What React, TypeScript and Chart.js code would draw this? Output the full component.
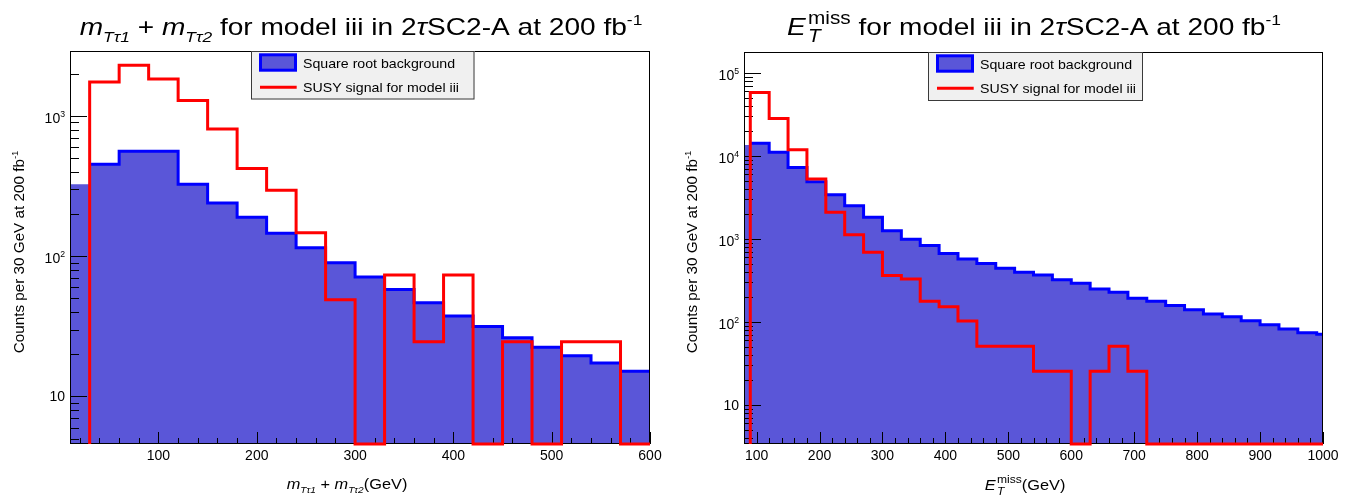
import React, { useEffect, useRef } from 'react';
import { Chart, registerables } from 'chart.js';

Chart.register(...registerables);

const W = 677;
const H = 498;
const FONT = '"Liberation Sans", Arial, Helvetica, sans-serif';
const BIN_WIDTH = 30;
const X_MINOR_STEP = 20;
const SUBR = 0.62;
const STACKR = 0.74;
const BKG_FILL = 'rgb(90, 86, 216)';
const BKG_LINE = '#0000ff';
const SIG_LINE = '#ff0000';

const legendLabels = ['Square root background', 'SUSY signal for model iii'];
const yTitleText = 'Counts per 30 GeV at 200 fb';

// ---- Left panel: m_Tτ1 + m_Tτ2 ----
const mttBkgFirstEdge = 0;
const mttBkg = [326, 453, 562, 562, 326, 240, 190, 146, 115, 90, 71, 58, 46.5, 37.5, 31.5, 26.2, 22.4, 19.5, 17.3, 15.1];
const mttSigFirstEdge = 30;
const mttSig = [1750, 2300, 1840, 1290, 807, 422, 295, 147, 49, 0, 73.6, 24.6, 73.6, 0, 24.6, 0, 24.6, 24.6, 0];
const mttXRange = [10, 600];
const mttYRange = [4.58, 2910];
const mttXTicks = [100, 200, 300, 400, 500, 600];
const mttXTickLabels = ['100', '200', '300', '400', '500', '600'];
const mttYTicks = [10, 100, 1000];
const mttYTickLabels = ['10', '10^2', '10^3'];

// ---- Right panel: E_T^miss ----
const metBkgFirstEdge = 60;
const metBkg = [13500, 14200, 11000, 7250, 4860, 3390, 2500, 1815, 1250, 990, 830, 665, 570, 505, 441, 395, 365, 322, 291, 249, 227, 192, 177, 157, 140, 124, 115, 103, 92, 82, 74, 71];
const metSigFirstEdge = 90;
const metSig = [58000, 28200, 11800, 5250, 2090, 1120, 688, 360, 328, 177, 152, 102, 50.8, 50.8, 50.8, 25.4, 25.4, 0, 25.4, 50.8, 25.4, 0, 0, 0, 0, 0, 0, 0, 0, 0, 0];
const metXRange = [80, 1000];
const metYRange = [3.37, 178000];
const metXTicks = [100, 200, 300, 400, 500, 600, 700, 800, 900, 1000];
const metXTickLabels = ['100', '200', '300', '400', '500', '600', '700', '800', '900', '1000'];
const metYTicks = [10, 100, 1000, 10000, 100000];
const metYTickLabels = ['10', '10^2', '10^3', '10^4', '10^5'];

type Run = { t: string; it?: boolean; pos?: 'sub' | 'sup'; stack?: string; gap?: number };

const mttTitle: Run[] = [
  { t: 'm', it: true }, { t: 'Tτ1', it: true, pos: 'sub' }, { t: ' + ' },
  { t: 'm', it: true }, { t: 'Tτ2', it: true, pos: 'sub' },
  { t: ' for model iii in 2' }, { t: 'τ', it: true }, { t: 'SC2-A at 200 fb' }, { t: '-1', pos: 'sup' },
];
const mttXTitle: Run[] = [
  { t: 'm', it: true }, { t: 'Tτ1', it: true, pos: 'sub' }, { t: ' + ' },
  { t: 'm', it: true }, { t: 'Tτ2', it: true, pos: 'sub' }, { t: '(GeV)' },
];
const metTitle: Run[] = [
  { t: 'E', it: true, gap: 0.08 }, { t: 'T', it: true, stack: 'miss' },
  { t: ' for model iii in 2' }, { t: 'τ', it: true }, { t: 'SC2-A at 200 fb' }, { t: '-1', pos: 'sup' },
];
const metXTitle: Run[] = [{ t: 'E', it: true, gap: 0.08 }, { t: 'T', it: true, stack: 'miss' }, { t: '(GeV)' }];
const yTitleRuns: Run[] = [{ t: yTitleText }, { t: '-1', pos: 'sup' }];

function fontOf(size: number, it?: boolean) {
  return `${it ? 'italic ' : ''}${size}px ${FONT}`;
}

function runWidth(ctx: CanvasRenderingContext2D, r: Run, size: number) {
  let w = 0;
  if (r.stack !== undefined) {
    ctx.font = fontOf(size * STACKR, r.it);
    w = ctx.measureText(r.t).width;
    ctx.font = fontOf(size * STACKR, false);
    w = Math.max(w, ctx.measureText(r.stack).width);
  } else if (r.pos) {
    ctx.font = fontOf(size * SUBR, r.it);
    w = ctx.measureText(r.t).width;
  } else {
    ctx.font = fontOf(size, r.it);
    w = ctx.measureText(r.t).width;
  }
  return w + (r.gap || 0) * size;
}

function drawRuns(ctx: CanvasRenderingContext2D, runs: Run[], x: number, baseline: number, size: number, align: string, sx: number) {
  const widths = runs.map((r) => runWidth(ctx, r, size));
  const total = widths.reduce((a, b) => a + b, 0) * sx;
  const start = align === 'center' ? x - total / 2 : align === 'right' ? x - total : x;
  ctx.save();
  ctx.translate(start, baseline);
  ctx.scale(sx, 1);
  ctx.textAlign = 'left';
  ctx.textBaseline = 'alphabetic';
  let cx = 0;
  runs.forEach((r, i) => {
    if (r.stack !== undefined) {
      ctx.font = fontOf(size * STACKR, r.it);
      ctx.fillText(r.t, cx, size * 0.3);
      ctx.font = fontOf(size * STACKR, false);
      ctx.fillText(r.stack, cx, -size * 0.45);
    } else if (r.pos) {
      ctx.font = fontOf(size * SUBR, r.it);
      ctx.fillText(r.t, cx, r.pos === 'sub' ? size * 0.28 : -size * 0.42);
    } else {
      ctx.font = fontOf(size, r.it);
      ctx.fillText(r.t, cx, 0);
    }
    cx += widths[i];
  });
  ctx.restore();
}

function stepPoints(firstEdge: number, values: number[], floor: number) {
  const pts = [{ x: firstEdge, y: floor }];
  values.forEach((v, i) => pts.push({ x: firstEdge + i * BIN_WIDTH, y: v > 0 ? v : floor }));
  const last = values[values.length - 1];
  pts.push({ x: firstEdge + values.length * BIN_WIDTH, y: last > 0 ? last : floor });
  return pts;
}

const mttPanel = {
  bkgStart: mttBkgFirstEdge, bkg: mttBkg, sigStart: mttSigFirstEdge, sig: mttSig,
  xMin: mttXRange[0], xMax: mttXRange[1], yMin: mttYRange[0], yMax: mttYRange[1],
  xTicks: mttXTicks, xTickLabels: mttXTickLabels, yTicks: mttYTicks, yTickLabels: mttYTickLabels,
  area: { left: 70, top: 51, right: 650, bottom: 444 },
  legend: { left: 251, top: 51, right: 474.5, bottom: 99.5 },
  title: mttTitle, titleX: 361, titleBaseline: 35,
  xTitle: mttXTitle, xTitleX: 347, xTitleBaseline: 489,
  yTitleX: 19, yTitleY: 252,
};

const metPanel = {
  bkgStart: metBkgFirstEdge, bkg: metBkg, sigStart: metSigFirstEdge, sig: metSig,
  xMin: metXRange[0], xMax: metXRange[1], yMin: metYRange[0], yMax: metYRange[1],
  xTicks: metXTicks, xTickLabels: metXTickLabels, yTicks: metYTicks, yTickLabels: metYTickLabels,
  area: { left: 67, top: 52, right: 646, bottom: 444 },
  legend: { left: 251, top: 52, right: 466, bottom: 101 },
  title: metTitle, titleX: 357, titleBaseline: 35,
  xTitle: metXTitle, xTitleX: 348, xTitleBaseline: 490,
  yTitleX: 15, yTitleY: 252,
};

function makeAxesPlugin(p: any) {
  return {
    id: 'rootAxes',
    afterDatasetDraw(chart: any, args: any) {
      if (args.index !== 1) return;
      const { ctx, chartArea: a, scales } = chart;
      const xs = scales.x;
      const ys = scales.y;
      ctx.save();
      ctx.strokeStyle = '#000';
      ctx.lineWidth = 1;
      ctx.beginPath();
      for (let v = Math.ceil(p.xMin / X_MINOR_STEP) * X_MINOR_STEP; v <= p.xMax; v += X_MINOR_STEP) {
        const px = Math.round(xs.getPixelForValue(v)) + 0.5;
        const major = p.xTicks.includes(v);
        ctx.moveTo(px, a.bottom);
        ctx.lineTo(px, a.bottom - (major ? 12 : 6));
      }
      const d0 = Math.floor(Math.log10(p.yMin));
      const d1 = Math.ceil(Math.log10(p.yMax));
      for (let d = d0; d <= d1; d++) {
        for (let k = 1; k <= 9; k++) {
          const v = k * Math.pow(10, d);
          if (v < p.yMin || v > p.yMax) continue;
          const py = Math.round(ys.getPixelForValue(v)) + 0.5;
          ctx.moveTo(a.left, py);
          ctx.lineTo(a.left + (k === 1 ? 17 : 9), py);
        }
      }
      ctx.stroke();
      ctx.strokeRect(a.left + 0.5, a.top + 0.5, a.right - a.left - 1, a.bottom - a.top - 1);
      ctx.restore();
    },
  };
}

function makeDecorPlugin(p: any) {
  return {
    id: 'rootDecor',
    afterDraw(chart: any) {
      const { ctx, chartArea: a, scales } = chart;
      const xs = scales.x;
      const ys = scales.y;
      ctx.save();
      ctx.fillStyle = '#000';
      p.xTicks.forEach((v: number, i: number) => {
        drawRuns(ctx, [{ t: p.xTickLabels[i] }], xs.getPixelForValue(v), a.bottom + 16, 14, 'center', 1);
      });
      p.yTicks.forEach((v: number, i: number) => {
        const py = ys.getPixelForValue(v);
        const [base, exp] = p.yTickLabels[i].split('^');
        const runs: Run[] = exp ? [{ t: base }, { t: exp, pos: 'sup' }] : [{ t: base }];
        drawRuns(ctx, runs, a.left - 5, py + (exp ? 7 : 5), 14, 'right', 1);
      });
      drawRuns(ctx, p.title, p.titleX, p.titleBaseline, 24, 'center', 1.17);
      drawRuns(ctx, p.xTitle, p.xTitleX, p.xTitleBaseline, 15, 'center', 1.09);
      ctx.save();
      ctx.translate(p.yTitleX, p.yTitleY);
      ctx.rotate(-Math.PI / 2);
      drawRuns(ctx, yTitleRuns, 0, 5, 14, 'center', 1.09);
      ctx.restore();

      // legend
      const L = p.legend;
      ctx.fillStyle = '#f0f0f0';
      ctx.fillRect(L.left, L.top, L.right - L.left, L.bottom - L.top);
      ctx.strokeStyle = '#3a3a3a';
      ctx.lineWidth = 1;
      ctx.strokeRect(L.left + 0.5, L.top + 0.5, L.right - L.left - 1, L.bottom - L.top - 1);
      ctx.fillStyle = BKG_FILL;
      ctx.fillRect(L.left + 9.5, L.top + 3.8, 35, 15.4);
      ctx.strokeStyle = BKG_LINE;
      ctx.lineWidth = 3;
      ctx.strokeRect(L.left + 9.5, L.top + 3.8, 35, 15.4);
      ctx.strokeStyle = SIG_LINE;
      ctx.beginPath();
      ctx.moveTo(L.left + 9, L.top + 36.3);
      ctx.lineTo(L.left + 45.7, L.top + 36.3);
      ctx.stroke();
      ctx.fillStyle = '#000';
      drawRuns(ctx, [{ t: legendLabels[0] }], L.left + 52, L.top + 17.3, 13, 'left', 1.09);
      drawRuns(ctx, [{ t: legendLabels[1] }], L.left + 52, L.top + 41.3, 13, 'left', 1.09);
      ctx.restore();
    },
  };
}

function PanelChart({ p, offset }: { p: any; offset: number }) {
  const ref = useRef<HTMLCanvasElement>(null);
  useEffect(() => {
    const canvas = ref.current;
    if (!canvas) return;
    const floor = p.yMin;
    const chart = new Chart(canvas, {
      type: 'line',
      data: {
        datasets: [
          {
            label: legendLabels[1],
            data: stepPoints(p.sigStart, p.sig, floor),
            borderColor: SIG_LINE,
            borderWidth: 3,
            fill: false,
            stepped: 'before',
            pointRadius: 0,
            borderJoinStyle: 'miter',
            borderCapStyle: 'butt',
            clip: { left: 0, top: 0, right: 0, bottom: 2 },
          },
          {
            label: legendLabels[0],
            data: stepPoints(p.bkgStart, p.bkg, floor),
            borderColor: BKG_LINE,
            backgroundColor: BKG_FILL,
            borderWidth: 3,
            fill: 'start',
            stepped: 'before',
            pointRadius: 0,
            borderJoinStyle: 'miter',
            borderCapStyle: 'butt',
            clip: { left: 0, top: 0, right: 0, bottom: 0 },
            segment: {
              borderColor: (c: any) => (c.p0.parsed.x < p.xMin ? 'rgba(0,0,0,0)' : undefined),
            },
          },
        ],
      } as any,
      options: {
        responsive: false,
        animation: false,
        devicePixelRatio: 1,
        events: [],
        layout: {
          padding: { left: p.area.left, top: p.area.top, right: W - p.area.right, bottom: H - p.area.bottom },
        },
        scales: {
          x: { type: 'linear', min: p.xMin, max: p.xMax, display: false },
          y: { type: 'logarithmic', min: p.yMin, max: p.yMax, display: false },
        },
        plugins: { legend: { display: false }, tooltip: { enabled: false }, title: { display: false } },
      } as any,
      plugins: [makeAxesPlugin(p), makeDecorPlugin(p)],
    });
    return () => chart.destroy();
  }, [p]);
  return (
    <canvas
      ref={ref}
      width={W}
      height={H}
      style={{ position: 'absolute', left: offset, top: 0, width: W, height: H }}
    />
  );
}

export default function App() {
  return (
    <div style={{ position: 'absolute', left: 0, top: 0, width: 1354, height: 498, background: '#fff' }}>
      <PanelChart p={mttPanel} offset={0} />
      <PanelChart p={metPanel} offset={677} />
    </div>
  );
}
